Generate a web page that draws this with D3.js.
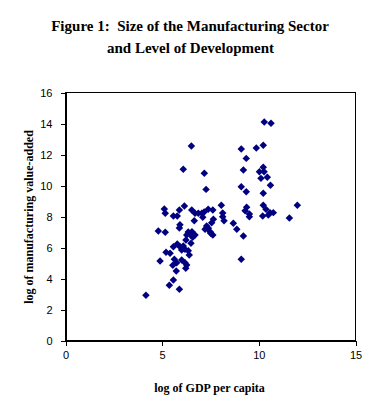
<!DOCTYPE html>
<html>
<head>
<meta charset="utf-8">
<script src="https://cdn.jsdelivr.net/npm/d3@7"></script>
<style>
  html, body { margin: 0; padding: 0; background: #fff; }
  svg { display: block; }
</style>
</head>
<body>
<svg id="chart" width="379" height="410"></svg>
<script>
const titleLines = ["Figure 1:  Size of the Manufacturing Sector", "and Level of Development"];
const xLabel = "log of GDP per capita";
const yLabel = "log of manufacturing value-added";
const xTicks = [0, 5, 10, 15];
const yTicks = [0, 2, 4, 6, 8, 10, 12, 14, 16];

// log of GDP per capita
const gdp = [
  5.11, 5.16, 5.58, 5.78, 5.89, 6.15, 6.53, 6.70, 6.87, 7.05, 7.17, 7.10, 6.66, 7.38,
  5.92, 5.89, 4.80, 5.16, 6.35, 6.54, 6.61, 6.27, 6.48, 6.70, 6.58, 7.30, 7.39, 7.22,
  6.49, 6.23, 5.58, 5.78, 5.92, 6.09, 6.18, 6.35, 6.01, 5.20, 5.41, 6.40, 4.89, 5.63,
  5.75, 5.55, 6.01, 6.18, 6.27, 6.22, 5.73, 5.58, 5.37, 5.89, 4.16,
  6.51, 6.09, 7.18, 7.27, 7.62, 8.06, 8.13, 8.13, 8.20, 7.65, 7.56, 7.48, 7.62, 7.51,
  8.68, 8.86, 9.20, 9.09, 9.37, 9.29, 9.51, 9.51, 10.23, 10.37, 10.58, 10.75, 10.20, 10.49,
  11.58, 11.99, 10.28, 10.63, 9.09, 9.87, 10.23, 9.35, 9.20, 10.23, 10.03, 10.27, 10.11,
  10.44, 10.60, 9.09, 9.35, 10.23
];
// log of manufacturing value-added
const mfg = [
  8.48, 8.21, 8.03, 8.03, 8.42, 8.68, 8.42, 8.21, 8.21, 8.21, 8.29, 7.95, 7.73, 8.47,
  7.47, 7.26, 7.06, 6.98, 7.00, 7.02, 6.81, 6.81, 6.81, 6.81, 6.66, 7.39, 7.24, 7.17,
  6.27, 6.48, 6.05, 6.23, 6.05, 6.10, 5.88, 5.79, 5.84, 5.69, 5.63, 5.52, 5.13, 5.24,
  5.02, 4.85, 5.19, 5.02, 4.87, 4.66, 4.48, 3.90, 3.56, 3.30, 2.92,
  12.55, 11.05, 10.79, 9.75, 8.42, 8.72, 8.23, 7.99, 7.73, 7.82, 7.60, 7.02, 6.81, 6.92,
  7.56, 7.17, 6.74, 5.24, 8.59, 8.37, 8.16, 7.99, 8.72, 8.46, 8.25, 8.25, 8.03, 8.10,
  7.90, 8.72, 14.10, 14.01, 12.35, 12.42, 12.59, 11.75, 11.00, 11.17, 10.89, 10.89, 10.46,
  10.53, 10.01, 9.92, 9.60, 9.50
];

const svg = d3.select("#chart");
const x = d3.scaleLinear().domain([0, 15]).range([65.5, 355.5]);
const y = d3.scaleLinear().domain([0, 16]).range([340.5, 92.5]);

const serif = "'Liberation Serif', 'Times New Roman', serif";
const sans = "'Liberation Sans', Arial, sans-serif";

// Title
svg.append("text")
  .attr("x", 190).attr("y", 31)
  .attr("text-anchor", "middle")
  .attr("font-family", serif).attr("font-weight", "bold").attr("font-size", 15)
  .attr("xml:space", "preserve")
  .style("white-space", "pre")
  .text(titleLines[0]);
svg.append("text")
  .attr("x", 190.5).attr("y", 53)
  .attr("text-anchor", "middle")
  .attr("font-family", serif).attr("font-weight", "bold").attr("font-size", 15)
  .text(titleLines[1]);

// Plot border
svg.append("rect")
  .attr("x", x(0)).attr("y", y(16))
  .attr("width", x(15) - x(0)).attr("height", y(0) - y(16))
  .attr("fill", "none").attr("stroke", "#000").attr("stroke-width", 1)
  .attr("shape-rendering", "crispEdges");

// Axes
const xAxis = svg.append("g")
  .attr("transform", `translate(0,${y(0)})`)
  .call(d3.axisBottom(x).tickValues(xTicks).tickSize(5).tickSizeOuter(0).tickPadding(6).tickFormat(d3.format("d")));
const yAxis = svg.append("g")
  .attr("transform", `translate(${x(0)},0)`)
  .call(d3.axisLeft(y).tickValues(yTicks).tickSize(5).tickSizeOuter(0).tickPadding(8).tickFormat(d3.format("d")));
[xAxis, yAxis].forEach(g => {
  g.selectAll("path, line").attr("stroke", "#000").attr("shape-rendering", "crispEdges");
  g.selectAll("text").attr("font-family", sans).attr("font-size", 11).attr("fill", "#000");
});

// Points
const pts = gdp.map((g, i) => [g, mfg[i]]);
svg.append("g").selectAll("path")
  .data(pts)
  .join("path")
  .attr("transform", d => `translate(${x(d[0])},${y(d[1])}) rotate(45)`)
  .attr("d", d3.symbol(d3.symbolSquare, 28)())
  .attr("fill", "#000080");

// Axis labels
svg.append("text")
  .attr("x", 209.5).attr("y", 392)
  .attr("text-anchor", "middle")
  .attr("font-family", serif).attr("font-weight", "bold").attr("font-size", 12)
  .text(xLabel);
svg.append("text")
  .attr("transform", `translate(33,217) rotate(-90)`)
  .attr("text-anchor", "middle")
  .attr("font-family", serif).attr("font-weight", "bold").attr("font-size", 12)
  .text(yLabel);
</script>
</body>
</html>
